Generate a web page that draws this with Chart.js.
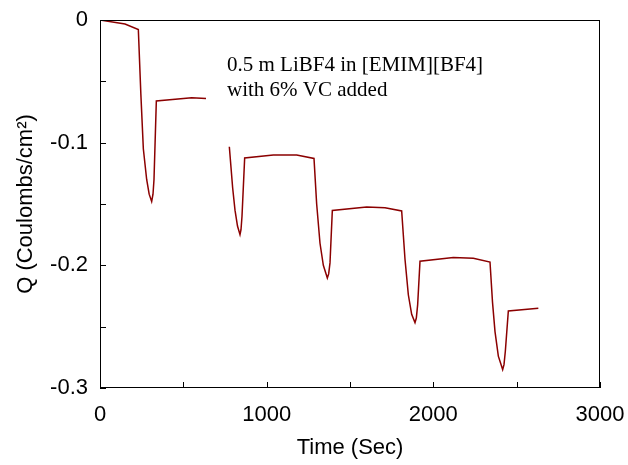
<!DOCTYPE html>
<html>
<head>
<meta charset="utf-8">
<script src="https://cdn.jsdelivr.net/npm/chart.js@4/dist/chart.umd.min.js"></script>
<style>
  html, body { margin: 0; padding: 0; background: #fff; }
  #wrap { width: 628px; height: 465px; }
</style>
</head>
<body>
<div id="wrap"><canvas id="chart"></canvas></div>
<script>
// charge passed vs time, one run of cycles
const timeSec = [0, 150, 230, 245, 260, 280, 295, 310, 318, 324, 338, 550, 636,
  700,
  776, 796, 810, 825, 840, 846, 852, 868, 1040, 1180, 1284,
  1300, 1320, 1340, 1364, 1372, 1380, 1394, 1600, 1710, 1810,
  1830, 1850, 1870, 1890, 1898, 1906, 1920, 2120, 2240, 2340,
  2355, 2370, 2390, 2416, 2424, 2432, 2450, 2630];
const charge = [0, -0.0033, -0.0077, -0.06, -0.105, -0.13, -0.142, -0.148, -0.142, -0.13, -0.066, -0.0634, -0.0639,
  null,
  -0.1033, -0.137, -0.155, -0.168, -0.175, -0.171, -0.16, -0.1125, -0.110, -0.110, -0.1129,
  -0.15, -0.182, -0.2, -0.2104, -0.207, -0.198, -0.1552, -0.1525, -0.153, -0.1557,
  -0.195, -0.224, -0.24, -0.2467, -0.243, -0.232, -0.1967, -0.1937, -0.1943, -0.1973,
  -0.23, -0.254, -0.274, -0.285, -0.281, -0.27, -0.2372, -0.235];

const xTicks = [0, 1000, 2000, 3000];
const xMinor = [500, 1500, 2500];
const yTicks = [0, -0.1, -0.2, -0.3];
const yMinor = [-0.05, -0.15, -0.25];
const noteLines = ['0.5 m LiBF4 in [EMIM][BF4]', 'with 6% VC added'];

const points = timeSec.map((t, i) => ({ x: t, y: charge[i] }));

const sans = '"Liberation Sans", Arial, sans-serif';

// box around the plot with inward ticks, plus the note
const frame = {
  id: 'frame',
  afterDraw(chart) {
    const { ctx, chartArea: a, scales: { x, y } } = chart;
    ctx.save();
    ctx.strokeStyle = '#000';
    ctx.lineWidth = 1;
    ctx.strokeRect(a.left + 0.5, a.top + 0.5, a.right - a.left - 1, a.bottom - a.top - 1);
    ctx.beginPath();
    xTicks.concat(xMinor).forEach(v => {
      const px = Math.round(x.getPixelForValue(v)) + 0.5;
      ctx.moveTo(px, a.bottom);
      ctx.lineTo(px, a.bottom - 6);
    });
    yTicks.concat(yMinor).forEach(v => {
      const py = Math.round(y.getPixelForValue(v)) + 0.5;
      ctx.moveTo(a.left, py);
      ctx.lineTo(a.left + 6, py);
    });
    ctx.stroke();

    ctx.fillStyle = '#000';
    ctx.font = '21px "Liberation Serif", "Times New Roman", serif';
    ctx.textBaseline = 'alphabetic';
    const nx = x.getPixelForValue(762);
    const ny = y.getPixelForValue(-0.0416);
    noteLines.forEach((s, i) => ctx.fillText(s, nx, ny + i * 25));
    ctx.restore();
  }
};

const noPad = s => { s.paddingTop = 0; s.paddingBottom = 0; s.paddingLeft = 0; s.paddingRight = 0; };

new Chart(document.getElementById('chart'), {
  type: 'line',
  data: {
    datasets: [{
      data: points,
      borderColor: '#8b0000',
      borderWidth: 1.5,
      pointRadius: 0,
      tension: 0,
      spanGaps: false,
      fill: false
    }]
  },
  options: {
    responsive: true,
    maintainAspectRatio: false,
    animation: false,
    layout: { padding: { top: 20, right: 28, left: 0, bottom: 0 } },
    plugins: { legend: { display: false }, tooltip: { enabled: false } },
    scales: {
      x: {
        type: 'linear',
        min: 0,
        max: 3000,
        grid: { display: false, drawTicks: false, tickLength: 0 },
        border: { display: false },
        afterBuildTicks: s => { s.ticks = xTicks.map(v => ({ value: v })); },
        afterFit: s => { s.height = 77; noPad(s); },
        ticks: {
          color: '#000',
          padding: 14,
          maxRotation: 0,
          font: { family: sans, size: 22 },
          callback: v => String(v)
        },
        title: {
          display: true,
          text: 'Time (Sec)',
          color: '#000',
          padding: { top: 4, bottom: 4 },
          font: { family: sans, size: 22 }
        }
      },
      y: {
        type: 'linear',
        min: -0.3,
        max: 0,
        grid: { display: false, drawTicks: false, tickLength: 0 },
        border: { display: false },
        afterBuildTicks: s => { s.ticks = yTicks.map(v => ({ value: v })); },
        afterFit: s => { s.width = 100; noPad(s); },
        ticks: {
          color: '#000',
          padding: 12,
          font: { family: sans, size: 22 },
          callback: v => (v === 0 ? '0' : v.toFixed(1))
        },
        title: {
          display: true,
          text: 'Q (Coulombs/cm²)',
          color: '#000',
          padding: { top: 13, bottom: 4 },
          font: { family: sans, size: 22 }
        }
      }
    }
  },
  plugins: [frame]
});
</script>
</body>
</html>
